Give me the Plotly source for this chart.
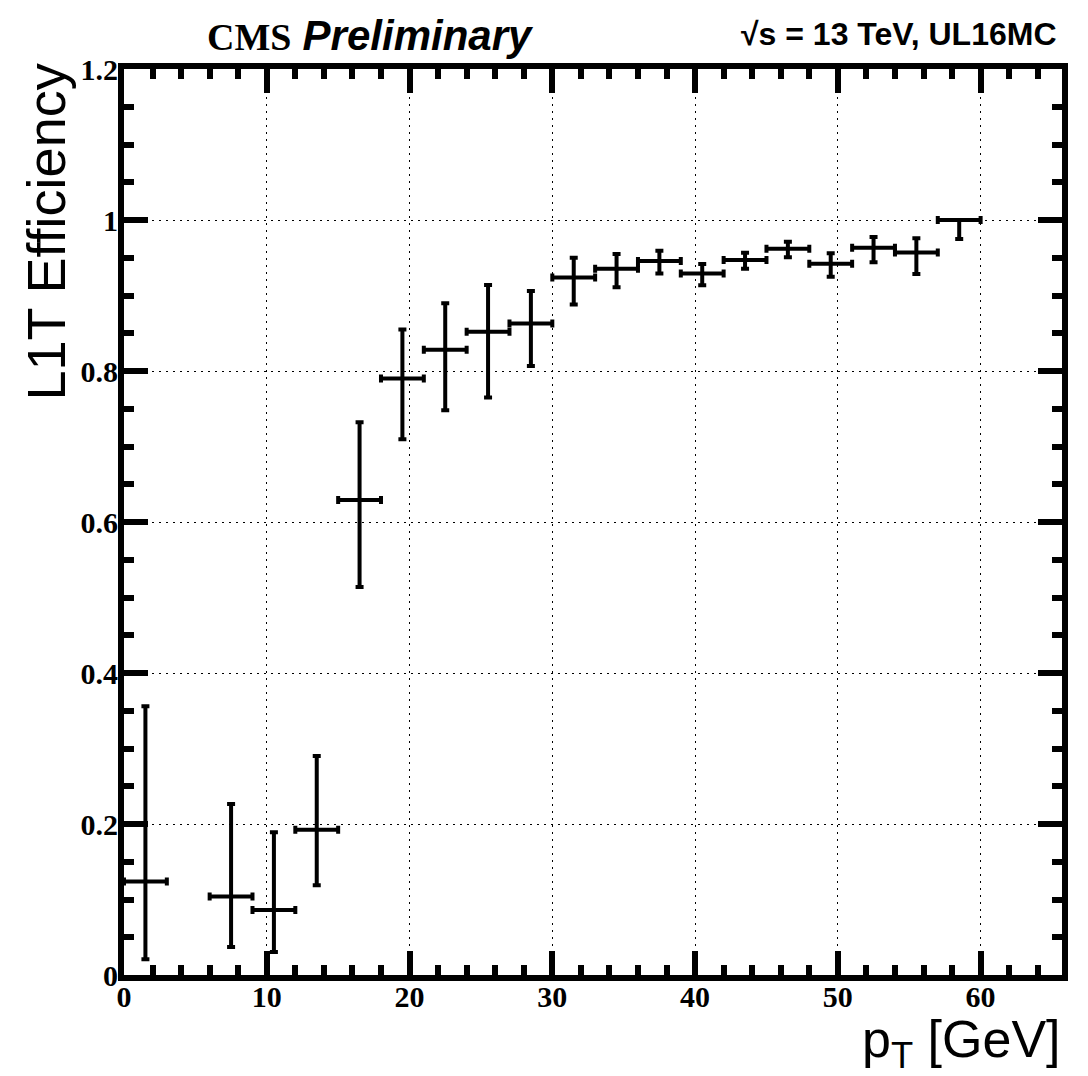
import plotly.graph_objects as go

# ---- data ----
pt_center = [1.5, 7.5, 10.5, 13.5, 16.5, 19.5, 22.5, 25.5, 28.5, 31.5,
             34.5, 37.5, 40.5, 43.5, 46.5, 49.5, 52.5, 55.5, 58.5]
pt_halfwidth = [1.5] * len(pt_center)
efficiency = [0.124, 0.104, 0.086, 0.1925, 0.629, 0.790, 0.828, 0.852, 0.863, 0.924,
              0.9355, 0.9457, 0.929, 0.947, 0.962, 0.942, 0.9633, 0.957, 1.0]
err_up = [0.232, 0.1225, 0.103, 0.0975, 0.103, 0.065, 0.0616, 0.062, 0.043, 0.026,
          0.0195, 0.0137, 0.0127, 0.0097, 0.0093, 0.014, 0.0142, 0.0187, 0.0]
err_down = [0.103, 0.067, 0.0555, 0.0735, 0.115, 0.0805, 0.080, 0.087, 0.0564, 0.036,
            0.0245, 0.0167, 0.0155, 0.0115, 0.0114, 0.017, 0.0193, 0.0285, 0.025]

x_tickvals = [0, 10, 20, 30, 40, 50, 60]
x_ticktext = ["0", "10", "20", "30", "40", "50", "60"]
y_tickvals = [0, 0.2, 0.4, 0.6, 0.8, 1.0, 1.2]
y_ticktext = ["0", "0.2", "0.4", "0.6", "0.8", "1", "1.2"]

fig = go.Figure()
fig.add_trace(go.Scatter(
    x=pt_center, y=efficiency, mode="markers",
    marker=dict(size=0.1, color="black"),
    error_x=dict(type="data", array=pt_halfwidth, color="black", thickness=4, width=4),
    error_y=dict(type="data", symmetric=False, array=err_up, arrayminus=err_down,
                 color="black", thickness=4, width=4),
    showlegend=False, hoverinfo="skip",
))

tick_font = dict(family="Liberation Serif", size=30, color="black", weight="bold")
grid_dash = "2px,5px"

fig.update_xaxes(
    range=[0, 65.7], tickmode="array", tickvals=x_tickvals, ticktext=x_ticktext,
    showline=True, linewidth=6, linecolor="black", mirror="allticks",
    ticks="inside", ticklen=24, tickwidth=6, tickcolor="black",
    minor=dict(dtick=2, tick0=0, ticks="inside", ticklen=10, tickwidth=6,
               tickcolor="black", showgrid=False),
    showgrid=True, gridcolor="black", gridwidth=1, griddash=grid_dash,
    tickfont=tick_font, zeroline=False, ticklabelstandoff=-10,
)
fig.update_yaxes(
    range=[0, 1.2], tickmode="array", tickvals=y_tickvals, ticktext=y_ticktext,
    showline=True, linewidth=6, linecolor="black", mirror="allticks",
    ticks="inside", ticklen=24, tickwidth=6, tickcolor="black",
    minor=dict(dtick=0.05, tick0=0, ticks="inside", ticklen=10, tickwidth=6,
               tickcolor="black", showgrid=False),
    showgrid=True, gridcolor="black", gridwidth=1, griddash=grid_dash,
    tickfont=tick_font, zeroline=False, ticklabelstandoff=-6,
)

W, H = 1088, 1076
L, T, R, B = 124, 69, 1088 - 1062, 1076 - 975
pw, ph = W - L - R, H - T - B

def px(xp):
    return (xp - L) / pw

def py(yp):
    return (H - B - yp) / ph

annotations = [
    dict(text="<span style='font-family:Liberation Serif;font-size:38px'><b>CMS</b></span> "
              "<span style='font-family:Liberation Sans;font-size:42px'><b><i>Preliminary</i></b></span>",
         x=px(205), y=py(36), xref="paper", yref="paper", xanchor="left", yanchor="middle",
         showarrow=False, font=dict(size=40, color="black", family="Liberation Sans")),
    dict(text="<b>√s = 13 TeV, UL16MC</b>",
         x=px(1058), y=py(34), xref="paper", yref="paper", xanchor="right", yanchor="middle",
         showarrow=False, font=dict(size=32, color="black", family="Liberation Sans")),
    dict(text="L1T Efficiency", textangle=-90,
         x=px(45), y=py(62), xref="paper", yref="paper", xanchor="center", yanchor="top",
         showarrow=False, font=dict(size=54, color="black", family="Liberation Sans")),
    dict(text="p<sub>T</sub> [GeV]",
         x=px(1063), y=py(1043), xref="paper", yref="paper", xanchor="right", yanchor="middle",
         showarrow=False, font=dict(size=52, color="black", family="Liberation Sans")),
]

fig.update_layout(
    width=W, height=H, margin=dict(l=L, r=R, t=T, b=B, autoexpand=False),
    paper_bgcolor="white", plot_bgcolor="white",
    annotations=annotations,
)

fig.write_html("out.html", config={"displayModeBar": False},
               post_script="document.body.style.margin='0';document.body.style.overflow='hidden';")
